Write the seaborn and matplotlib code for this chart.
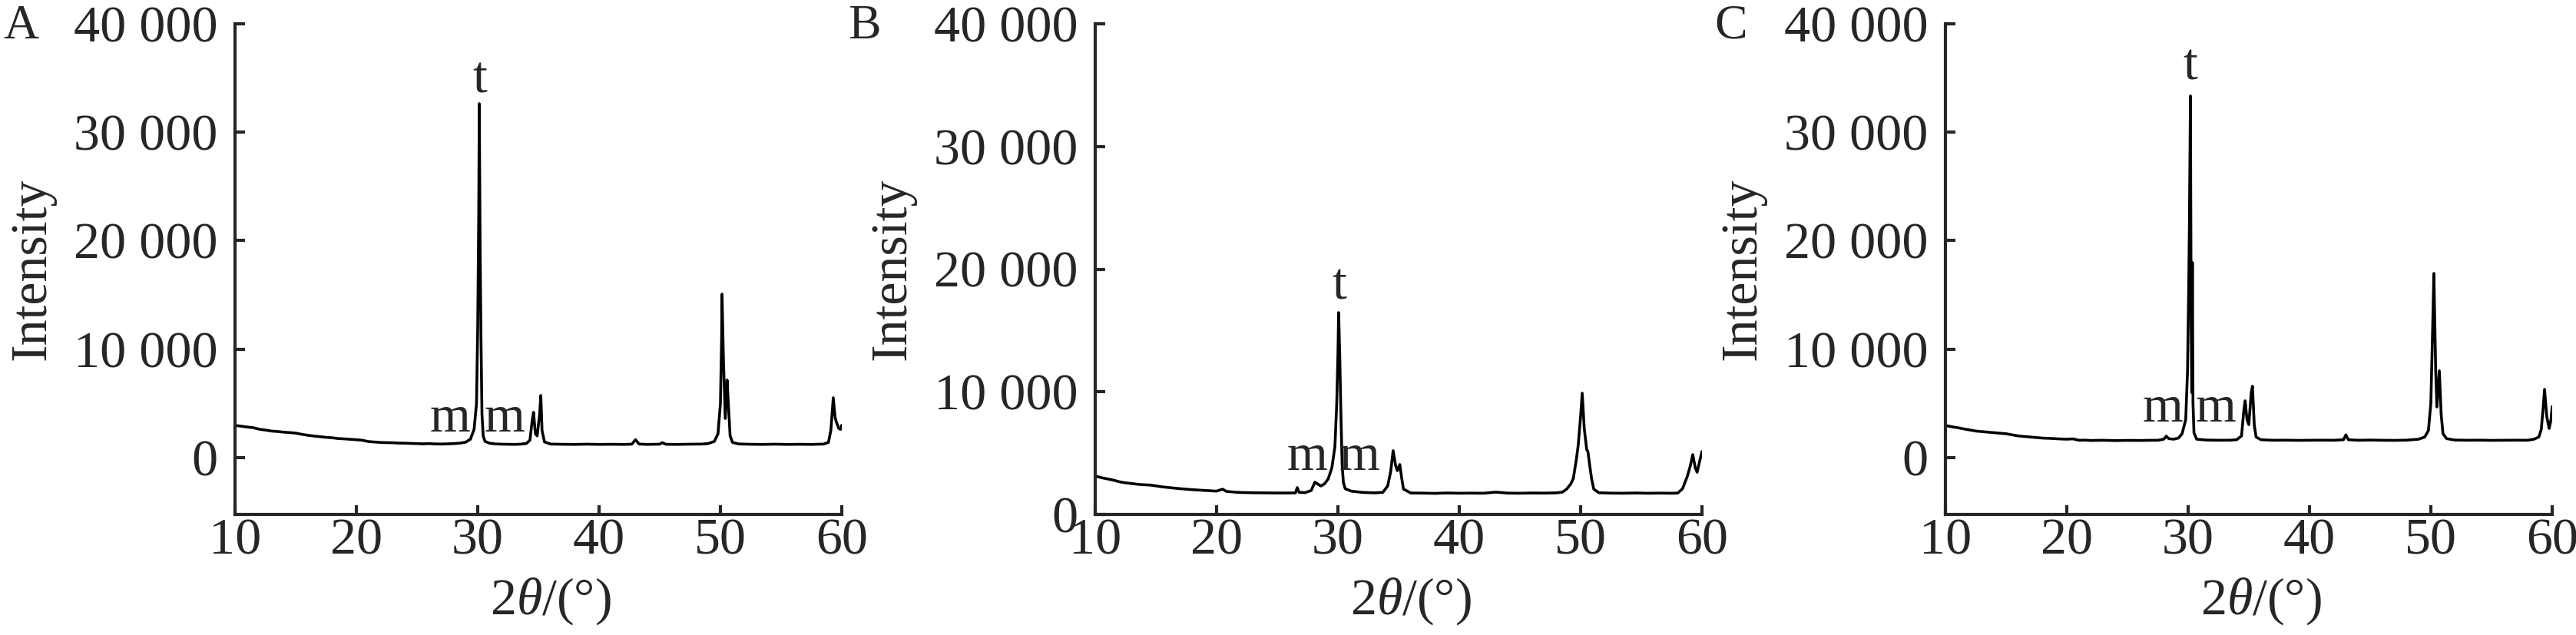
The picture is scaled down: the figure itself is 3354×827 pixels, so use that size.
import numpy as np
import pandas as pd
import seaborn as sns
import matplotlib.pyplot as plt
from matplotlib.ticker import FuncFormatter

# === DATOS ===
theta_a = [10.0, 10.5, 11.0, 11.5, 12.0, 12.5, 13.0, 13.5, 14.0, 14.5, 15.0, 15.5, 16.0, 16.5,
           17.0, 17.5, 18.0, 18.5, 19.0, 19.5, 20.0, 20.5, 21.0, 21.5, 22.0, 22.5, 23.0, 23.5,
           24.0, 24.5, 25.0, 25.5, 26.0, 26.5, 27.0, 27.5, 28.0, 28.5, 29.0, 29.4, 29.7, 29.9,
           30.0, 30.08, 30.13, 30.2, 30.27, 30.35, 30.45, 30.6, 31.0, 31.5, 32.0, 32.5, 33.0,
           33.5, 34.0, 34.3, 34.5, 34.6, 34.75, 34.9, 35.1, 35.2, 35.3, 35.5, 36.0, 37.0, 38.0,
           39.0, 40.0, 41.0, 42.0, 42.7, 43.0, 43.3, 44.0, 45.0, 45.2, 45.5, 46.5, 47.5, 48.5,
           49.0, 49.5, 49.8, 50.0, 50.1, 50.13, 50.25, 50.4, 50.55, 50.65, 50.8, 51.0, 51.5,
           52.5, 53.5, 54.5, 55.5, 56.5, 57.5, 58.5, 58.9, 59.1, 59.3, 59.45, 59.55, 59.75,
           59.9, 60.0]
intensity_a = [2970, 2900, 2820, 2760, 2620, 2540, 2450, 2410, 2350, 2310, 2260, 2150, 2060, 1990,
               1930, 1870, 1830, 1760, 1730, 1690, 1650, 1600, 1480, 1440, 1400, 1380, 1370, 1340,
               1330, 1310, 1290, 1270, 1290, 1260, 1250, 1270, 1290, 1330, 1420, 1700, 2600, 5000,
               12000, 22000, 32640, 19000, 11000, 4000, 2000, 1500, 1320, 1260, 1240, 1230, 1220,
               1240, 1300, 1600, 3500, 4180, 2200, 2000, 4000, 5730, 2500, 1450, 1250, 1230, 1220,
               1240, 1220, 1230, 1220, 1240, 1650, 1250, 1220, 1240, 1380, 1230, 1220, 1240, 1250,
               1300, 1500, 2200, 5000, 11000, 15080, 9000, 3610, 7150, 5000, 2000, 1400, 1260,
               1230, 1220, 1240, 1220, 1230, 1220, 1250, 1400, 2500, 5520, 3700, 3300, 2700,
               2600, 3000]

theta_b = [10.0, 10.5, 11.0, 11.5, 12.0, 12.5, 13.0, 13.5, 14.0, 14.5, 15.0, 15.5, 16.0, 16.5,
           17.0, 17.5, 18.0, 18.5, 19.0, 19.5, 20.0, 20.3, 20.5, 20.8, 21.5, 22.0, 23.0, 24.0,
           25.0, 26.0, 26.5, 26.65, 26.8, 27.3, 27.8, 28.1, 28.3, 28.6, 28.9, 29.2, 29.5, 29.75,
           29.9, 30.0, 30.06, 30.15, 30.25, 30.35, 30.45, 30.6, 31.1, 32.0, 33.0, 33.7, 34.1,
           34.35, 34.55, 34.75, 34.9, 35.1, 35.25, 35.4, 36.0, 37.0, 38.0, 39.0, 40.0, 41.0,
           42.0, 43.0, 44.0, 45.0, 46.0, 47.0, 48.0, 48.5, 48.85, 49.2, 49.4, 49.65, 49.8, 50.0,
           50.13, 50.3, 50.5, 50.6, 50.75, 50.9, 51.08, 51.5, 52.5, 53.5, 54.5, 55.5, 56.5, 57.5,
           58.0, 58.4, 58.8, 59.05, 59.24, 59.45, 59.6, 59.8, 60.0]
intensity_b = [3130, 3000, 2900, 2800, 2660, 2580, 2520, 2460, 2420, 2400, 2330, 2250, 2200, 2150,
               2100, 2060, 2020, 1990, 1960, 1930, 1900, 2000, 2060, 1880, 1820, 1790, 1770, 1760,
               1750, 1750, 1760, 2190, 1800, 1780, 1950, 2630, 2500, 2320, 2500, 2900, 3800, 5500,
               9000, 13000, 16460, 13000, 8000, 4000, 2600, 2100, 1900, 1800, 1760, 1800, 2320,
               3500, 5200, 4000, 3570, 4070, 3000, 2070, 1750, 1740, 1720, 1750, 1730, 1740,
               1730, 1820, 1740, 1730, 1750, 1740, 1760, 1820, 2070, 2500, 2940, 4500, 5630, 8000,
               9890, 7000, 5300, 5130, 4000, 2940, 2070, 1770, 1740, 1730, 1750, 1730, 1740, 1730,
               1740, 2100, 3130, 4000, 4880, 3800, 3440, 4300, 5130]

theta_c = [10.0, 10.5, 11.0, 11.5, 12.0, 12.5, 13.0, 13.5, 14.0, 14.5, 15.0, 15.5, 16.0, 16.5,
           17.0, 17.5, 18.0, 18.5, 19.0, 19.5, 20.0, 20.5, 21.0, 21.5, 22.0, 23.0, 24.0, 25.0,
           26.0, 27.0, 27.5, 28.0, 28.2, 28.4, 28.8, 29.2, 29.5, 29.8, 29.95, 30.05, 30.1, 30.19,
           30.25, 30.3, 30.35, 30.4, 30.48, 30.7, 31.5, 32.5, 33.5, 34.0, 34.4, 34.6, 34.7,
           34.85, 35.0, 35.2, 35.3, 35.45, 35.6, 36.0, 37.0, 38.0, 39.0, 40.0, 41.0, 42.0, 42.8,
           43.0, 43.2, 44.0, 45.0, 46.0, 47.0, 48.0, 49.0, 49.5, 49.8, 50.0, 50.15, 50.25, 50.4,
           50.5, 50.7, 50.85, 51.0, 51.3, 52.0, 53.0, 54.0, 55.0, 56.0, 57.0, 58.0, 58.5, 58.9,
           59.1, 59.25, 59.37, 59.55, 59.75, 59.9, 60.0]
intensity_c = [2970, 2850, 2760, 2650, 2550, 2450, 2400, 2350, 2300, 2250, 2200, 2100, 2000, 1950,
               1900, 1850, 1800, 1780, 1750, 1720, 1700, 1730, 1600, 1610, 1580, 1600, 1570, 1590,
               1580, 1600, 1600, 1700, 1980, 1750, 1700, 1800, 2200, 3500, 8000, 16000, 21000, 33350,
               12000, 6000, 17980, 5000, 2300, 1700, 1620, 1600, 1610, 1650, 2000, 4500, 5240,
               3500, 3040, 6000, 6580, 3000, 1900, 1650, 1600, 1610, 1590, 1600, 1610, 1600, 1650,
               2100, 1650, 1600, 1620, 1600, 1590, 1610, 1700, 1900, 2500, 5000, 12000, 16990, 8000,
               4670, 8000, 4000, 2200, 1750, 1620, 1600, 1610, 1590, 1600, 1610, 1600, 1700, 1900,
               2600, 4500, 6300, 3800, 2690, 3500, 4700]

paneles = ["A", "B", "C"]
ymins = [-5240, 0, -5240]
t_pos = [(30.2, 33630), (30.1, 17530), (30.2, 34900)]
m_pos = [((27.7, 2400), (32.2, 2400)),
         ((27.5, 3630), (31.8, 3630)),
         ((27.9, 3360), (32.3, 3360))]
y_ticks = [0, 10000, 20000, 30000, 40000]
x_ticks = [10, 20, 30, 40, 50, 60]

# === ESTILO ===
sns.set_style("ticks")
plt.rcParams["font.family"] = ["Liberation Serif", "DejaVu Serif"]
plt.rcParams["mathtext.fontset"] = "custom"
plt.rcParams["mathtext.rm"] = "Liberation Serif"
plt.rcParams["mathtext.it"] = "Liberation Serif:italic"

FS = 49
fig = plt.figure(figsize=(33.54, 8.27), dpi=100)
lefts = [306, 1426, 2533]
letras_x = [4, 1104, 2232]
datos = [(theta_a, intensity_a), (theta_b, intensity_b), (theta_c, intensity_c)]

for i, (tx, iy) in enumerate(datos):
    ax = fig.add_axes([lefts[i] / 3354, 1 - 670 / 827, 790 / 3354, 639 / 827])
    df = pd.DataFrame({"theta": tx, "I": iy})
    sns.lineplot(data=df, x="theta", y="I", ax=ax, color="black", linewidth=2.6,
                 estimator=None)
    ax.set_xlim(10, 60)
    ax.set_ylim(ymins[i], 40000)
    ax.set_xticks(x_ticks)
    ax.set_yticks(y_ticks)
    ax.yaxis.set_major_formatter(FuncFormatter(lambda v, p: f"{int(v):,}".replace(",", " ")))
    sns.despine(ax=ax)
    for s in ["left", "bottom"]:
        ax.spines[s].set_linewidth(3)
    ax.tick_params(axis="both", direction="in", length=9, width=3, labelsize=FS)
    ax.tick_params(axis="x", pad=3)
    ax.tick_params(axis="y", pad=16)
    ax.set_xlabel(r"2$\theta$/(°)", fontsize=FS)
    ax.set_ylabel("Intensity", fontsize=FS)
    ax.xaxis.set_label_coords(0.52, -0.125)
    ax.yaxis.set_label_coords(-0.295, 0.5)

    ax.text(*t_pos[i], "t", fontsize=FS, ha="center", va="baseline")
    for mx, my in m_pos[i]:
        ax.text(mx, my, "m", fontsize=FS, ha="center", va="baseline")

    fig.text(letras_x[i] / 3354, 1 - 6 / 827, paneles[i], fontsize=46, ha="left", va="top")

fig.savefig("out.png", dpi=100)
